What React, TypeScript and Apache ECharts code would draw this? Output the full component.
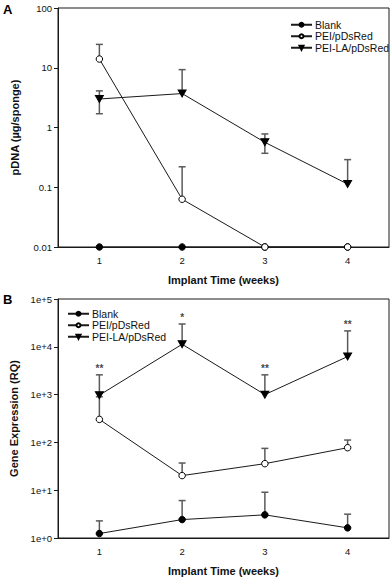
import React, { useEffect, useRef } from "react";
import * as echarts from "echarts";

const weeks = [1, 2, 3, 4];
const seriesNames = ["Blank", "PEI/pDsRed", "PEI-LA/pDsRed"];

// Panel A: pDNA (µg/sponge)
const aBlank = [0.01, 0.01, 0.01, 0.01];
const aPei = [14, 0.063, 0.01, 0.01];
const aPeiLa = [3.0, 3.7, 0.565, 0.113];
const aPeiLow = [14, 0.063, 0.01, 0.01];
const aPeiHigh = [24.6, 0.22, 0.01, 0.01];
const aPeiLaLow = [1.7, 3.7, 0.37, 0.113];
const aPeiLaHigh = [4.1, 9.3, 0.78, 0.29];
const aTicks = [0.01, 0.1, 1, 10, 100];

// Panel B: Gene Expression (RQ)
const bBlank = [1.24, 2.43, 3.05, 1.63];
const bPei = [303, 20.2, 35.9, 77.5];
const bPeiLa = [975, 11300, 1000, 6250];
const bBlankHigh = [2.28, 6.07, 9.06, 3.15];
const bPeiHigh = [900, 37, 75, 112];
const bPeiLaHigh = [2590, 30000, 2590, 21500];
const bStars = ["**", "*", "**", "**"];
const bTickLabels = ["1e+0", "1e+1", "1e+2", "1e+3", "1e+4", "1e+5"];

const FONT = "Arial, 'Liberation Sans', Helvetica, sans-serif";
const LINE = "#1a1a1a";
const ERR = "#5a5a5a";
const TRI = "path://M0,0 L10,0 L5,9 Z";

function errData(mean: number[], low: number[], high: number[]) {
  return weeks.map((w, i) => [w, mean[i], low[i], high[i]]);
}

function errSeries(data: number[][], gi: number) {
  return {
    type: "custom",
    xAxisIndex: gi,
    yAxisIndex: gi,
    z: 1,
    silent: true,
    encode: { x: 0, y: [1, 2, 3] },
    data,
    renderItem: (params: any, api: any) => {
      const x = api.value(0);
      const m = api.value(1);
      const lo = api.value(2);
      const hi = api.value(3);
      if (lo === hi) return { type: "group", children: [] };
      const pLo = api.coord([x, lo]);
      const pHi = api.coord([x, hi]);
      const style = { stroke: ERR, lineWidth: 1.5 };
      const children: any[] = [
        { type: "line", shape: { x1: pLo[0], y1: pLo[1], x2: pHi[0], y2: pHi[1] }, style },
      ];
      const cw = 3.5;
      if (hi !== m)
        children.push({ type: "line", shape: { x1: pHi[0] - cw, y1: pHi[1], x2: pHi[0] + cw, y2: pHi[1] }, style });
      if (lo !== m)
        children.push({ type: "line", shape: { x1: pLo[0] - cw, y1: pLo[1], x2: pLo[0] + cw, y2: pLo[1] }, style });
      return { type: "group", children };
    },
  };
}

function lineSeries(name: string, vals: number[], gi: number) {
  const symbol = name === "Blank" || name === "PEI/pDsRed" ? "circle" : TRI;
  const fill = name === "PEI/pDsRed" ? "#ffffff" : "#000000";
  return {
    type: "line",
    name,
    xAxisIndex: gi,
    yAxisIndex: gi,
    z: 3,
    data: weeks.map((w, i) => [w, vals[i]]),
    symbol,
    symbolSize: symbol === "circle" ? 6.5 : [8, 7],
    showSymbol: true,
    clip: false,
    lineStyle: { color: LINE, width: 1 },
    itemStyle: { color: fill, borderColor: "#000", borderWidth: 1 },
  };
}

export default function App() {
  const ref = useRef<HTMLDivElement>(null);
  useEffect(() => {
    document.body.style.margin = "0";
    if (!ref.current) return;
    const chart = echarts.init(ref.current, null, { renderer: "svg" });
    const grids = [
      { left: 58, top: 8, width: 331, height: 239 },
      { left: 58, top: 299, width: 331, height: 239 },
    ];
    const xAxis = [0, 1].map((gi) => ({
      type: "value",
      gridIndex: gi,
      min: 0.5,
      max: 4.5,
      interval: 0.5,
      name: "Implant Time (weeks)",
      nameLocation: "middle",
      nameGap: 27,
      nameTextStyle: { fontFamily: FONT, fontWeight: "bold", fontSize: 11, color: "#111" },
      axisLine: { lineStyle: { color: LINE, width: 1 } },
      axisTick: { show: false },
      splitLine: { show: false },
      axisLabel: {
        margin: 8,
        fontFamily: FONT,
        fontSize: 9.5,
        color: "#111",
        formatter: (v: number) => (Number.isInteger(v) && weeks.includes(v) ? String(v) : ""),
      },
    }));
    const yAxis = [
      {
        type: "log",
        gridIndex: 0,
        logBase: 10,
        min: aTicks[0],
        max: aTicks[aTicks.length - 1],
        name: "pDNA (µg/sponge)",
        nameLocation: "middle",
        nameGap: 38,
        nameTextStyle: { fontFamily: FONT, fontWeight: "bold", fontSize: 11, color: "#111" },
        axisLine: { show: true, lineStyle: { color: LINE, width: 1 } },
        axisTick: { show: true, inside: false, length: 4, lineStyle: { color: LINE } },
        splitLine: { show: false },
        axisLabel: {
          margin: 6,
          fontFamily: FONT,
          fontSize: 9.5,
          color: "#111",
          formatter: (v: number) => {
            const idx = aTicks.findIndex((t) => Math.abs(Math.log10(t) - Math.log10(v)) < 1e-6);
            return idx >= 0 ? String(aTicks[idx]) : "";
          },
        },
      },
      {
        type: "log",
        gridIndex: 1,
        logBase: 10,
        min: 1,
        max: 100000,
        name: "Gene Expression (RQ)",
        nameLocation: "middle",
        nameGap: 38,
        nameTextStyle: { fontFamily: FONT, fontWeight: "bold", fontSize: 11, color: "#111" },
        axisLine: { show: true, lineStyle: { color: LINE, width: 1 } },
        axisTick: { show: true, inside: false, length: 4, lineStyle: { color: LINE } },
        splitLine: { show: false },
        axisLabel: {
          margin: 6,
          fontFamily: FONT,
          fontSize: 9.5,
          color: "#111",
          formatter: (v: number) => {
            const e = Math.round(Math.log10(v));
            return bTickLabels[e] ?? "";
          },
        },
      },
    ];
    const legendCommon = {
      orient: "vertical",
      itemWidth: 21,
      itemHeight: 5,
      itemGap: 0,
      textStyle: { fontFamily: FONT, fontSize: 10.5, color: "#111", lineHeight: 11.5, padding: [0, 0, 0, -2] },
      data: seriesNames,
      selectedMode: false,
    };
    chart.setOption({
      animation: false,
      grid: grids.map((g) => ({ ...g, show: true, borderColor: LINE, borderWidth: 1, containLabel: false })),
      xAxis,
      yAxis,
      legend: [
        { ...legendCommon, left: 285, top: 14 },
        { ...legendCommon, left: 62, top: 303 },
      ],
      graphic: [
        { type: "text", left: 3, top: 3, style: { text: "A", fontFamily: FONT, fontWeight: "bold", fontSize: 13, fill: "#000" } },
        { type: "text", left: 3, top: 293, style: { text: "B", fontFamily: FONT, fontWeight: "bold", fontSize: 13, fill: "#000" } },
      ],
      series: [
        errSeries(errData(aPei, aPeiLow, aPeiHigh), 0),
        errSeries(errData(aPeiLa, aPeiLaLow, aPeiLaHigh), 0),
        lineSeries(seriesNames[0], aBlank, 0),
        lineSeries(seriesNames[1], aPei, 0),
        lineSeries(seriesNames[2], aPeiLa, 0),
        errSeries(errData(bBlank, bBlank, bBlankHigh), 1),
        errSeries(errData(bPei, bPei, bPeiHigh), 1),
        errSeries(errData(bPeiLa, bPeiLa, bPeiLaHigh), 1),
        lineSeries(seriesNames[0], bBlank, 1),
        lineSeries(seriesNames[1], bPei, 1),
        lineSeries(seriesNames[2], bPeiLa, 1),
        {
          type: "scatter",
          xAxisIndex: 1,
          yAxisIndex: 1,
          z: 4,
          silent: true,
          symbolSize: 1,
          itemStyle: { color: "rgba(0,0,0,0)" },
          data: weeks.map((w, i) => [w, bPeiLaHigh[i]]),
          label: {
            show: true,
            position: "top",
            distance: 1,
            fontFamily: FONT,
            fontSize: 10,
            fontWeight: "bold",
            color: "#111",
            formatter: (p: any) => bStars[p.dataIndex],
          },
        },
      ],
    });
    return () => chart.dispose();
  }, []);
  return <div ref={ref} style={{ width: 392, height: 580 }} />;
}
